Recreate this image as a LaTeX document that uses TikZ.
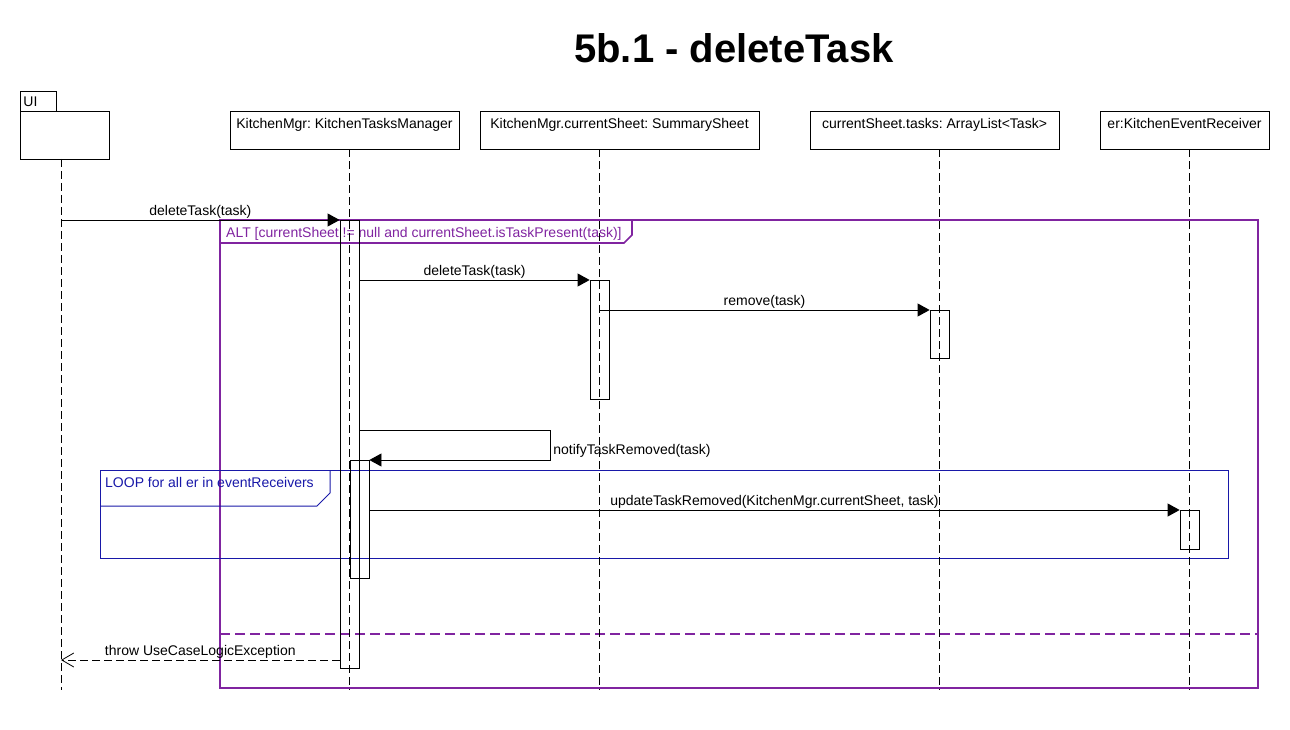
\documentclass[tikz,border=0pt]{standalone}
\usepackage{fontspec}
\setmainfont{Liberation Sans}
\frenchspacing
\usetikzlibrary{arrows.meta}
\definecolor{altcol}{RGB}{128,36,160}
\definecolor{loopcol}{RGB}{24,24,168}

\begin{document}
\begin{tikzpicture}[x=1pt, y=-1pt, font=\fontsize{14}{16}\selectfont]
	\tikzstyle{object}     = [draw=black, line width=0.8pt, minimum height=38pt, inner sep=2pt, text height=16pt, text depth=18pt]
	\tikzstyle{lifeline}   = [draw=black, line width=0.8pt, dash pattern=on 8pt off 4pt]
	\tikzstyle{activation} = [draw=black, line width=0.8pt, minimum width=19pt, inner sep=0pt, anchor=north]
	\tikzstyle{msg}        = [-{Triangle[length=12pt, width=13pt]}, line width=0.8pt]
	\tikzstyle{reply}      = [-{Straight Barb[length=12pt, width=14pt]}, line width=0.8pt, dash pattern=on 8pt off 4pt]
	\tikzstyle{msglabel}   = [above, inner sep=1.5pt]

	\useasboundingbox (0,0) rectangle (1290,730);
%	\draw[step=50pt, gray!30] (0,0) grid (1290,730);

	\node[font=\fontsize{40}{44}\selectfont\bfseries] (title) at (734,48) {5b.1 - deleteTask};

	% frames
	\draw[altcol, line width=1.6pt] (220,220) rectangle (1258,688);
	\draw[altcol, line width=1.6pt] (220,243) -- (624,243) -- (632,235) -- (632,220);
	\node[anchor=north west, text=altcol, inner sep=0pt, text height=13pt] (altlabel) at (226,224) {ALT [currentSheet != null and currentSheet.isTaskPresent(task)]};
	\draw[altcol, line width=1.6pt, dash pattern=on 10pt off 5pt] (220,634) -- (1258,634);

	\draw[loopcol, line width=1pt] (100,470) rectangle (1228,558);
	\draw[loopcol, line width=1pt] (100,506) -- (317,506) -- (330,493) -- (330,470);
	\node[anchor=north west, text=loopcol, inner sep=0pt, text height=13pt] (looplabel) at (105,474) {LOOP for all er in eventReceivers};

	% objects and lifelines
	\node[draw, line width=0.8pt, anchor=north west, minimum height=20pt, text width=30pt, inner xsep=3pt, inner ysep=0pt] (uitab) at (20,91) {UI};
	\node[draw, line width=0.8pt, anchor=north west, minimum width=89pt, minimum height=48pt] (ui) at (20,111) {};
	\coordinate (uiline) at (61,159);
	\coordinate (uiend) at (61,690);
	\draw[lifeline] (uiline) -- (uiend);

	\foreach \name/\bx/\x/\w/\txt in {km/344.5/349.5/229/KitchenMgr: KitchenTasksManager, cs/619.5/599.5/279/KitchenMgr.currentSheet: SummarySheet, ts/934.5/939.5/249/currentSheet.tasks: ArrayList<Task>, er/1184.5/1189.5/169/er:KitchenEventReceiver}
	{
		\node[object, minimum width=\w pt] (\name) at (\bx,130) {\txt};
		\coordinate (\name end) at (\x,690);
		\draw[lifeline] (\name.south -| \name end) -- (\name end);
	}

	% activations
	\node[activation, minimum height=448pt] (a1) at (349.5,220) {};
	\node[activation, minimum height=119pt] (a2) at (599.5,280) {};
	\node[activation, minimum height=48pt]  (a3) at (939.5,310) {};
	\node[activation, minimum height=118pt] (a4) at (359.5,460) {};
	\node[activation, minimum height=39pt]  (a5) at (1189.5,510) {};

	% messages
	\draw[msg] (uiline |- a1.north) -- (a1.north west) node[msglabel, midway] {deleteTask(task)};
	\draw[msg] (a1.east |- a2.north) -- (a2.north west) node[msglabel, midway] {deleteTask(task)};
	\draw[msg] (a2.center |- a3.north) -- (a3.north west) node[msglabel, midway] {remove(task)};
	\draw[msg] (a1.east |- 0,430) -| (550,460) node[pos=0.85, right, inner sep=3pt] {notifyTaskRemoved(task)} -- (a4.north east);
	\draw[msg] (a4.east |- a5.north) -- (a5.north west) node[msglabel, midway] {updateTaskRemoved(KitchenMgr.currentSheet, task)};
	\draw[reply] (a1.west |- 0,660) -- (uiline |- 0,660) node[msglabel, midway] {throw UseCaseLogicException};

\end{tikzpicture}
\end{document}
